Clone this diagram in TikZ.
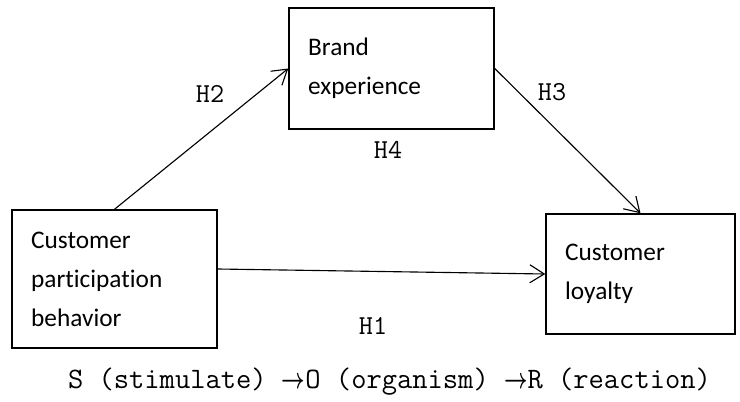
\documentclass[tikz,border=0pt]{standalone}
\usepackage{fontspec}
\usepackage{amsmath}
\usepackage{amssymb}
\setmainfont{Carlito}[Ligatures=NoCommon]
\usetikzlibrary{arrows.meta}
\tikzset{>={Straight Barb[length=0.36cm,width=0.45cm]}}
\tikzset{
  concept/.style={draw,line width=1pt,align=left,inner xsep=0.48cm,
    font=\fontsize{18}{27.7}\selectfont},
  hyp/.style={font=\ttfamily\fontsize{19.5}{20}\selectfont},
  path/.style={line width=0.8pt,->}
}
\newcommand\sorto{\scalebox{0.7}[1]{$\boldsymbol{\rightarrow}$}}

\begin{document}
\begin{tikzpicture}[x=0.025cm,y=-0.025cm]

\useasboundingbox (0,0) rectangle (740,401);

% constructs:
\node[concept,minimum width=5.125cm,minimum height=3.025cm,text width=4.165cm] (brand) at (391.5,68.5) {Brand\\experience};
\node[concept,minimum width=5.125cm,minimum height=3.45cm,text width=4.165cm] (cpb) at (114.5,279) {Customer\\participation\\behavior};
\node[concept,minimum width=4.725cm,minimum height=3.0cm,text width=3.765cm] (loyal) at (640.5,274) {Customer\\loyalty};

% paths:
\draw[path] (cpb.north) -- (brand.west);
\draw[path] (brand.east) -- (loyal.north);
\draw[path] ([yshift=0.25cm]cpb.east) -- (loyal.west);

% hypotheses:
\node[hyp] (h2) at (210,93.5) {H2};
\node[hyp] (h3) at (552,92.5) {H3};
\node[hyp] (h4) at (388,150) {H4};
\node[hyp] (h1) at (373,326) {H1};

% model:
\node[font=\ttfamily\fontsize{21.1}{22}\selectfont] (sor) at (389.5,382) {S (stimulate) \sorto O (organism) \sorto R (reaction)};

\end{tikzpicture}
\end{document}
